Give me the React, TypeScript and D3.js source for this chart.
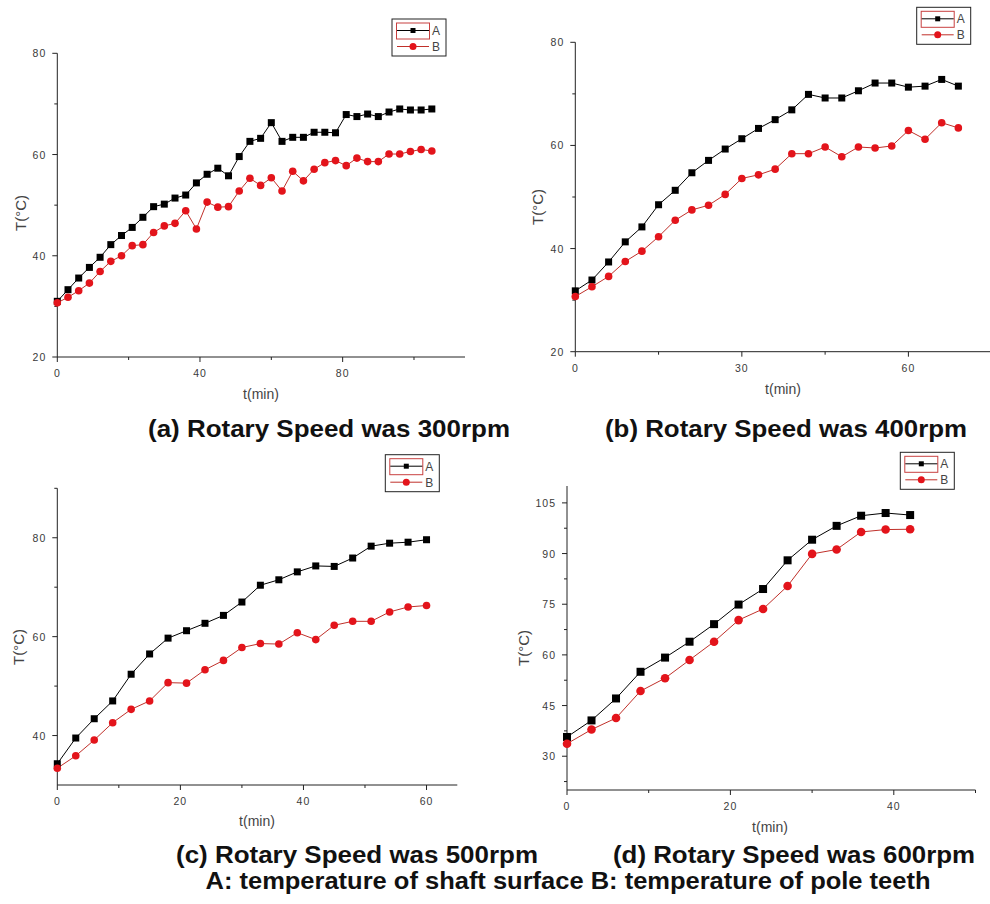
import React from "react";
import * as d3 from "d3";

// ---------- data ----------
const TIME_300 = [0, 3, 6, 9, 12, 15, 18, 21, 24, 27, 30, 33, 36, 39, 42, 45, 48, 51, 54, 57, 60, 63, 66, 69, 72, 75, 78, 81, 84, 87, 90, 93, 96, 99, 102, 105];
const A_300 = [31.0, 33.3, 35.6, 37.7, 39.7, 42.2, 44.0, 45.6, 47.6, 49.7, 50.2, 51.4, 52.0, 54.4, 56.1, 57.3, 55.8, 59.6, 62.6, 63.2, 66.3, 62.6, 63.4, 63.4, 64.4, 64.4, 64.3, 67.9, 67.5, 68.0, 67.5, 68.4, 69.0, 68.8, 68.8, 69.0];
const B_300 = [30.7, 31.8, 33.1, 34.6, 36.9, 38.9, 40.0, 42.0, 42.2, 44.6, 45.9, 46.4, 48.9, 45.3, 50.6, 49.6, 49.7, 52.8, 55.3, 53.9, 55.4, 52.8, 56.7, 54.8, 57.1, 58.4, 58.8, 57.8, 59.3, 58.6, 58.6, 60.1, 60.1, 60.6, 61.0, 60.7];

const TIME_400 = [0, 3, 6, 9, 12, 15, 18, 21, 24, 27, 30, 33, 36, 39, 42, 45, 48, 51, 54, 57, 60, 63, 66, 69];
const A_400 = [31.8, 33.9, 37.4, 41.3, 44.2, 48.5, 51.3, 54.7, 57.1, 59.3, 61.3, 63.3, 65.0, 66.9, 69.9, 69.2, 69.2, 70.6, 72.1, 72.1, 71.3, 71.5, 72.8, 71.5];
const B_400 = [30.7, 32.6, 34.6, 37.5, 39.5, 42.3, 45.5, 47.5, 48.4, 50.5, 53.6, 54.3, 55.4, 58.4, 58.4, 59.7, 57.8, 59.7, 59.5, 59.9, 62.9, 61.2, 64.4, 63.4];

const TIME_500 = [0, 3, 6, 9, 12, 15, 18, 21, 24, 27, 30, 33, 36, 39, 42, 45, 48, 51, 54, 57, 60];
const A_500 = [34.3, 39.5, 43.4, 47.0, 52.4, 56.5, 59.7, 61.2, 62.7, 64.3, 67.0, 70.4, 71.5, 73.1, 74.3, 74.2, 75.9, 78.3, 78.9, 79.1, 79.6];
const B_500 = [33.4, 35.9, 39.1, 42.6, 45.3, 47.0, 50.7, 50.6, 53.3, 55.2, 57.8, 58.6, 58.5, 60.8, 59.4, 62.3, 63.1, 63.1, 65.0, 66.0, 66.3];

const TIME_600 = [0, 3, 6, 9, 12, 15, 18, 21, 24, 27, 30, 33, 36, 39, 42];
const A_600 = [35.7, 40.6, 47.1, 55.0, 59.2, 63.9, 69.1, 74.9, 79.5, 88.0, 94.1, 98.2, 101.2, 102.0, 101.4];
const B_600 = [33.7, 37.9, 41.3, 49.3, 53.1, 58.5, 63.9, 70.3, 73.6, 80.4, 89.9, 91.2, 96.4, 97.1, 97.2];

const SERIES_NAMES = ["A", "B"];
const TITLES = [
  "(a) Rotary Speed was 300rpm",
  "(b) Rotary Speed was 400rpm",
  "(c) Rotary Speed was 500rpm",
  "(d) Rotary Speed was 600rpm",
];
const CAPTION = "A: temperature of shaft surface B: temperature of pole teeth";
const X_LABEL = "t(min)";
const Y_LABEL = "T(°C)";

const X_MAJOR_300 = [0, 40, 80];
const X_MINOR_300 = [20, 60, 100];
const Y_MAJOR_300 = [20, 40, 60, 80];
const Y_MINOR_300 = [30, 50, 70];

const X_MAJOR_400 = [0, 30, 60];
const X_MINOR_400 = [15, 45];
const Y_MAJOR_400 = [20, 40, 60, 80];
const Y_MINOR_400 = [30, 50, 70];

const X_MAJOR_500 = [0, 20, 40, 60];
const X_MINOR_500 = [10, 30, 50];
const Y_MAJOR_500 = [40, 60, 80];
const Y_MINOR_500 = [50, 70, 90];

const X_MAJOR_600 = [0, 20, 40];
const X_MINOR_600 = [10, 30, 50];
const Y_MAJOR_600 = [30, 45, 60, 75, 90, 105];
const Y_MINOR_600 = [22.5, 37.5, 52.5, 67.5, 82.5, 97.5];

// ---------- styles ----------
const COLOR_A = "#000000";
const COLOR_B_LINE = "#c0302a";
const COLOR_B_MARK = "#e3141b";
const AXIS_COLOR = "#222";
const TEXT_COLOR = "#3a3a3a";
const FONT = "'Liberation Sans', Arial, sans-serif";

type PanelCfg = {
  time: number[];
  a: number[];
  b: number[];
  xDomain: [number, number];
  xRange: [number, number];
  yDomain: [number, number];
  yRange: [number, number];
  xMajor: number[];
  xMinor: number[];
  yMajor: number[];
  yMinor: number[];
  legend: [number, number];
  yLabelPos: [number, number];
  xLabelPos: [number, number];
  markSize: number;
};

const PANELS: PanelCfg[] = [
  {
    time: TIME_300, a: A_300, b: B_300,
    xDomain: [0, 114.3], xRange: [57.3, 465],
    yDomain: [20, 80], yRange: [357, 53.3],
    xMajor: X_MAJOR_300, xMinor: X_MINOR_300, yMajor: Y_MAJOR_300, yMinor: Y_MINOR_300,
    legend: [392, 19], yLabelPos: [20, 213], xLabelPos: [261, 399], markSize: 7,
  },
  {
    time: TIME_400, a: A_400, b: B_400,
    xDomain: [0, 74.7], xRange: [575.3, 990],
    yDomain: [20, 80], yRange: [351.7, 42.3],
    xMajor: X_MAJOR_400, xMinor: X_MINOR_400, yMajor: Y_MAJOR_400, yMinor: Y_MINOR_400,
    legend: [916.7, 7.3], yLabelPos: [537, 207], xLabelPos: [783, 394], markSize: 7,
  },
  {
    time: TIME_500, a: A_500, b: B_500,
    xDomain: [0, 65], xRange: [57.3, 457.3],
    yDomain: [30, 90], yRange: [785, 488.3],
    xMajor: X_MAJOR_500, xMinor: X_MINOR_500, yMajor: Y_MAJOR_500, yMinor: Y_MINOR_500,
    legend: [385.3, 454.7], yLabelPos: [18.5, 647], xLabelPos: [257, 826], markSize: 7,
  },
  {
    time: TIME_600, a: A_600, b: B_600,
    xDomain: [0, 50], xRange: [567, 975.5],
    yDomain: [20, 110], yRange: [790, 486],
    xMajor: X_MAJOR_600, xMinor: X_MINOR_600, yMajor: Y_MAJOR_600, yMinor: Y_MINOR_600,
    legend: [900.3, 452.3], yLabelPos: [523, 648], xLabelPos: [770, 832], markSize: 8,
  },
];

function Panel({ cfg }: { cfg: PanelCfg }) {
  const x = d3.scaleLinear().domain(cfg.xDomain).range(cfg.xRange);
  const y = d3.scaleLinear().domain(cfg.yDomain).range(cfg.yRange);
  const x0 = cfg.xRange[0];
  const y0 = cfg.yRange[0];
  const line = d3
    .line<[number, number]>()
    .x((d) => x(d[0]))
    .y((d) => y(d[1]));
  const ptsA: [number, number][] = cfg.time.map((t, i) => [t, cfg.a[i]]);
  const ptsB: [number, number][] = cfg.time.map((t, i) => [t, cfg.b[i]]);
  const s = cfg.markSize;
  const [lx, ly] = cfg.legend;
  return (
    <g>
      {/* axes */}
      <line x1={x0} x2={cfg.xRange[1]} y1={y0} y2={y0} stroke={AXIS_COLOR} strokeWidth={1} />
      <line x1={x0} x2={x0} y1={y0} y2={cfg.yRange[1]} stroke={AXIS_COLOR} strokeWidth={1} />
      {cfg.xMajor.map((v) => (
        <g key={"xM" + v}>
          <line x1={x(v)} x2={x(v)} y1={y0} y2={y0 + 5} stroke={AXIS_COLOR} />
          <text x={x(v)} y={y0 + 20} textAnchor="middle" fontSize={10.5} fill={TEXT_COLOR} fontFamily={FONT} letterSpacing={1}>
            {v}
          </text>
        </g>
      ))}
      {cfg.xMinor.map((v) => (
        <line key={"xm" + v} x1={x(v)} x2={x(v)} y1={y0} y2={y0 + 3} stroke={AXIS_COLOR} />
      ))}
      {cfg.yMajor.map((v) => (
        <g key={"yM" + v}>
          <line x1={x0 - 5} x2={x0} y1={y(v)} y2={y(v)} stroke={AXIS_COLOR} />
          <text x={x0 - 11} y={y(v) + 4} textAnchor="end" fontSize={10.5} fill={TEXT_COLOR} fontFamily={FONT} letterSpacing={1}>
            {v}
          </text>
        </g>
      ))}
      {cfg.yMinor.map((v) => (
        <line key={"ym" + v} x1={x0 - 3} x2={x0} y1={y(v)} y2={y(v)} stroke={AXIS_COLOR} />
      ))}
      {/* axis labels */}
      <text
        x={cfg.yLabelPos[0]}
        y={cfg.yLabelPos[1]}
        transform={`rotate(-90 ${cfg.yLabelPos[0]} ${cfg.yLabelPos[1]})`}
        textAnchor="middle"
        dominantBaseline="central"
        fontSize={15}
        fill="#444"
        fontFamily={FONT}
      >
        {Y_LABEL}
      </text>
      <text x={cfg.xLabelPos[0]} y={cfg.xLabelPos[1]} textAnchor="middle" fontSize={14} fill="#444" fontFamily={FONT}>
        {X_LABEL}
      </text>
      {/* series */}
      <path d={line(ptsB) || ""} fill="none" stroke={COLOR_B_LINE} strokeWidth={1} />
      <path d={line(ptsA) || ""} fill="none" stroke={COLOR_A} strokeWidth={1} />
      {ptsA.map((p, i) => (
        <rect key={"a" + i} x={x(p[0]) - s / 2} y={y(p[1]) - s / 2} width={s} height={s} fill={COLOR_A} />
      ))}
      {ptsB.map((p, i) => (
        <circle key={"b" + i} cx={x(p[0])} cy={y(p[1])} r={s / 2 + 0.3} fill={COLOR_B_MARK} />
      ))}
      {/* legend */}
      <g>
        <rect x={lx} y={ly} width={54} height={37} fill="#fff" stroke={AXIS_COLOR} strokeWidth={1} />
        <rect x={lx + 4.5} y={ly + 4} width={33} height={16} fill="none" stroke="#c84040" strokeWidth={1} />
        <line x1={lx + 5} x2={lx + 37} y1={ly + 11.5} y2={ly + 11.5} stroke={COLOR_A} />
        <rect x={lx + 18.5} y={ly + 9} width={5} height={5} fill={COLOR_A} />
        <text x={lx + 40} y={ly + 16} fontSize={12} fill="#444" fontFamily={FONT}>
          {SERIES_NAMES[0]}
        </text>
        <line x1={lx + 5} x2={lx + 37} y1={ly + 27.5} y2={ly + 27.5} stroke={COLOR_B_LINE} />
        <circle cx={lx + 21} cy={ly + 27.5} r={3.5} fill={COLOR_B_MARK} />
        <text x={lx + 40} y={ly + 32} fontSize={12} fill="#444" fontFamily={FONT}>
          {SERIES_NAMES[1]}
        </text>
      </g>
    </g>
  );
}

const TITLE_POS: [number, number][] = [
  [329, 437],
  [786, 437],
  [357, 863],
  [794, 863],
];
const TITLE_SIZE = [24, 24, 23, 23];
const TITLE_FONT = "'Liberation Sans', Arial, sans-serif";

export default function App() {
  return (
    <svg width={990} height={904} style={{ position: "absolute", left: 0, top: 0, background: "#fff" }}>
      <rect x={0} y={0} width={990} height={904} fill="#fff" />
      {PANELS.map((p, i) => (
        <Panel key={i} cfg={p} />
      ))}
      {TITLES.map((t, i) => (
        <text
          key={t}
          x={TITLE_POS[i][0]}
          y={TITLE_POS[i][1]}
          textAnchor="middle"
          fontSize={TITLE_SIZE[i]}
          fontWeight="bold"
          fill="#111"
          fontFamily={TITLE_FONT}
          textLength={362}
          lengthAdjust="spacingAndGlyphs"
        >
          {t}
        </text>
      ))}
      <text
        x={568}
        y={889}
        textAnchor="middle"
        fontSize={23}
        fontWeight="bold"
        fill="#111"
        fontFamily={TITLE_FONT}
        textLength={725}
        lengthAdjust="spacingAndGlyphs"
      >
        {CAPTION}
      </text>
    </svg>
  );
}
